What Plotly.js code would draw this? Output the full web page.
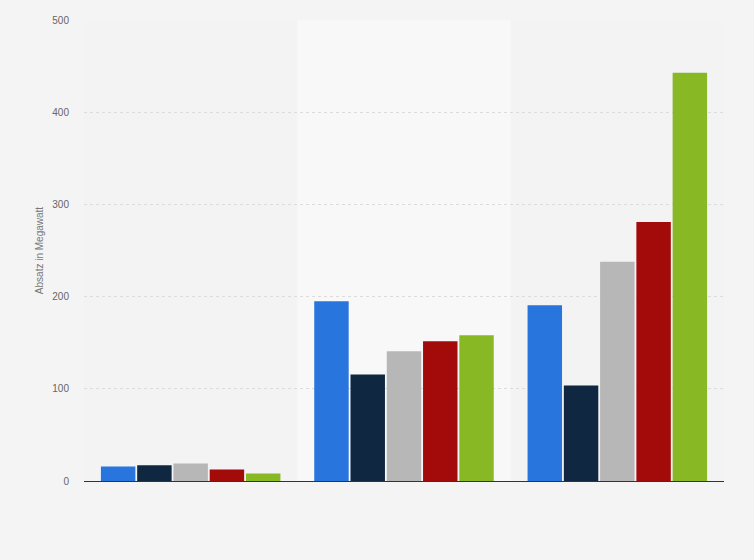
<!DOCTYPE html>
<html>
<head>
<meta charset="utf-8">
<script src="https://cdn.plot.ly/plotly-3.0.1.min.js"></script>
<style>
  html, body { margin: 0; padding: 0; background: #f4f4f4; }
  #chart { width: 754px; height: 560px; }
</style>
</head>
<body>
<div id="chart"></div>
<script>
// categories (no labels shown in the reference)
const categories = ['Gruppe 1', 'Gruppe 2', 'Gruppe 3'];

// series values (Megawatt)
const series1 = [15.6, 195.0, 190.7];
const series2 = [17.1, 115.6, 103.7];
const series3 = [18.9, 140.6, 237.7];
const series4 = [12.4, 151.5, 280.9];
const series5 = [8.0, 158.0, 442.8];

const yTicks = [0, 100, 200, 300, 400, 500];

const colors = ['#2876dd', '#0f2741', '#b7b7b7', '#a30b0b', '#88b924'];
const allSeries = [series1, series2, series3, series4, series5];

const traces = allSeries.map((vals, i) => ({
    type: 'bar',
    x: categories,
    y: vals,
    name: 'Serie ' + (i + 1),
    marker: { color: colors[i], line: { width: 0 } },
    hoverinfo: 'y'
}));

const layout = {
    width: 754,
    height: 560,
    margin: { l: 84, r: 30, t: 20, b: 79 },
    paper_bgcolor: '#f4f4f4',
    plot_bgcolor: '#f3f3f3',
    showlegend: false,
    barmode: 'group',
    bargap: 0.15,
    bargroupgap: 0.05,
    font: { family: 'Arial, Liberation Sans, sans-serif', size: 10, color: '#666' },
    xaxis: {
        type: 'category',
        showticklabels: false,
        showgrid: false,
        zeroline: false,
        showline: true,
        linecolor: '#333',
        linewidth: 1.2,
        ticks: ''
    },
    yaxis: {
        range: [0, 500],
        tickvals: yTicks,
        ticktext: yTicks.map(String),
        showgrid: true,
        gridcolor: '#dcdcdc',
        griddash: 'dot',
        gridwidth: 1,
        zeroline: false,
        showline: false,
        ticks: '',
        ticklabelstandoff: 14,
        tickfont: { size: 10, color: '#666' },
        title: { text: 'Absatz in Megawatt', font: { size: 10, color: '#777' }, standoff: 6 }
    },
    shapes: [{
        type: 'rect',
        xref: 'x',
        yref: 'paper',
        x0: 0.5, x1: 1.5,
        y0: 0, y1: 1,
        fillcolor: '#f8f8f8',
        line: { width: 0 },
        layer: 'below'
    }]
};

Plotly.newPlot('chart', traces, layout, { displayModeBar: false, staticPlot: true });
</script>
</body>
</html>
